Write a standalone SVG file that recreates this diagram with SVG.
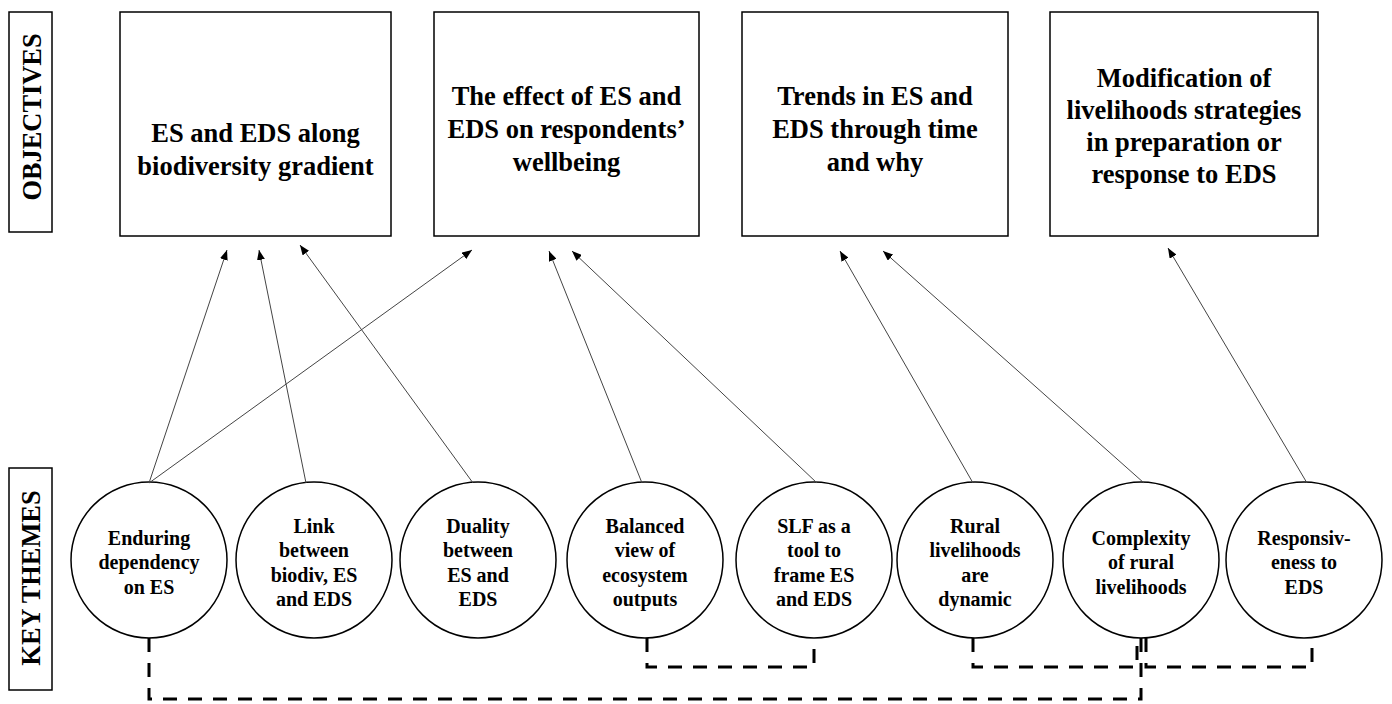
<svg xmlns="http://www.w3.org/2000/svg" width="1392" height="704" viewBox="0 0 1392 704">
<style>
.box{fill:#fff;stroke:#000;stroke-width:1.5}
.circ{fill:#fff;stroke:#000;stroke-width:1.5}
.ttl{font-family:"Liberation Serif","Times New Roman",serif;font-weight:bold;font-size:26.5px;text-anchor:middle;fill:#000}
.ct{font-family:"Liberation Serif","Times New Roman",serif;font-weight:bold;font-size:20px;text-anchor:middle;fill:#000}
.side{font-family:"Liberation Serif","Times New Roman",serif;font-weight:bold;font-size:26.4px;text-anchor:middle;fill:#000}
.arr{stroke:#444;stroke-width:1;fill:none;marker-end:url(#ah)}
.dash{stroke:#000;stroke-width:3;fill:none;stroke-dasharray:14 11}
</style>
<defs>
<marker id="ah" viewBox="0 0 10 8" refX="10" refY="4" markerWidth="10" markerHeight="8" orient="auto" markerUnits="userSpaceOnUse">
<path d="M0,0 L10,4 L0,8 z" fill="#000"/>
</marker>
</defs>
<rect width="1392" height="704" fill="#fff"/>

<g id="label-objectives">
<rect class="box" x="9" y="12" width="43" height="220"/>
<text class="side" transform="translate(41,117) rotate(-90)">OBJECTIVES</text>
</g>
<g id="label-keythemes">
<rect class="box" x="9" y="468" width="43" height="222"/>
<text class="side" transform="translate(40,578) rotate(-90)">KEY THEMES</text>
</g>

<g id="obj1">
<rect class="box" x="120" y="12" width="271" height="224"/>
<text class="ttl" x="255.5" y="142">ES and EDS along</text>
<text class="ttl" x="255.5" y="175">biodiversity gradient</text>
</g>
<g id="obj2">
<rect class="box" x="434" y="12" width="265" height="224"/>
<text class="ttl" x="566.5" y="105">The effect of ES and</text>
<text class="ttl" x="566.5" y="138">EDS on respondents’</text>
<text class="ttl" x="566.5" y="171">wellbeing</text>
</g>
<g id="obj3">
<rect class="box" x="742" y="12" width="266" height="224"/>
<text class="ttl" x="875" y="105">Trends in ES and</text>
<text class="ttl" x="875" y="138">EDS through time</text>
<text class="ttl" x="875" y="171">and why</text>
</g>
<g id="obj4">
<rect class="box" x="1050" y="12" width="268" height="224"/>
<text class="ttl" x="1184" y="87">Modification of</text>
<text class="ttl" x="1184" y="119">livelihoods strategies</text>
<text class="ttl" x="1184" y="151">in preparation or</text>
<text class="ttl" x="1184" y="183">response to EDS</text>
</g>

<g id="theme1">
<circle class="circ" cx="149" cy="560" r="78"/>
<text class="ct" x="149" y="545">Enduring</text>
<text class="ct" x="149" y="569">dependency</text>
<text class="ct" x="149" y="594">on ES</text>
</g>
<g id="theme2">
<circle class="circ" cx="314" cy="560" r="78"/>
<text class="ct" x="314" y="533">Link</text>
<text class="ct" x="314" y="557">between</text>
<text class="ct" x="314" y="582">biodiv, ES</text>
<text class="ct" x="314" y="606">and EDS</text>
</g>
<g id="theme3">
<circle class="circ" cx="478" cy="560" r="78"/>
<text class="ct" x="478" y="533">Duality</text>
<text class="ct" x="478" y="557">between</text>
<text class="ct" x="478" y="582">ES and</text>
<text class="ct" x="478" y="606">EDS</text>
</g>
<g id="theme4">
<circle class="circ" cx="645" cy="560" r="78"/>
<text class="ct" x="645" y="533">Balanced</text>
<text class="ct" x="645" y="557">view of</text>
<text class="ct" x="645" y="582">ecosystem</text>
<text class="ct" x="645" y="606">outputs</text>
</g>
<g id="theme5">
<circle class="circ" cx="814" cy="560" r="78"/>
<text class="ct" x="814" y="533">SLF as a</text>
<text class="ct" x="814" y="557">tool to</text>
<text class="ct" x="814" y="582">frame ES</text>
<text class="ct" x="814" y="606">and EDS</text>
</g>
<g id="theme6">
<circle class="circ" cx="975" cy="560" r="78"/>
<text class="ct" x="975" y="533">Rural</text>
<text class="ct" x="975" y="557">livelihoods</text>
<text class="ct" x="975" y="582">are</text>
<text class="ct" x="975" y="606">dynamic</text>
</g>
<g id="theme7">
<circle class="circ" cx="1141" cy="560" r="78"/>
<text class="ct" x="1141" y="545">Complexity</text>
<text class="ct" x="1141" y="569">of rural</text>
<text class="ct" x="1141" y="594">livelihoods</text>
</g>
<g id="theme8">
<circle class="circ" cx="1304" cy="560" r="78"/>
<text class="ct" x="1304" y="545">Responsiv-</text>
<text class="ct" x="1304" y="569">eness to</text>
<text class="ct" x="1304" y="594">EDS</text>
</g>

<g id="connectors">
<line class="arr" x1="149" y1="483" x2="227" y2="250"/>
<line class="arr" x1="149" y1="483" x2="472" y2="250"/>
<line class="arr" x1="306" y1="483" x2="259" y2="250"/>
<line class="arr" x1="473" y1="483" x2="300" y2="245"/>
<line class="arr" x1="642" y1="483" x2="549" y2="251"/>
<line class="arr" x1="817" y1="483" x2="572" y2="251"/>
<line class="arr" x1="973" y1="483" x2="840" y2="251"/>
<line class="arr" x1="1144" y1="483" x2="883" y2="251"/>
<line class="arr" x1="1307" y1="483" x2="1168" y2="248"/>
<path class="dash" d="M149,638 V699 H1141 V638"/>
<path class="dash" d="M647,638 V667 H814 V638"/>
<path class="dash" d="M973,638 V667 H1137 V638"/>
<path class="dash" d="M1146,638 V667 H1312 V638"/>
</g>
</svg>
